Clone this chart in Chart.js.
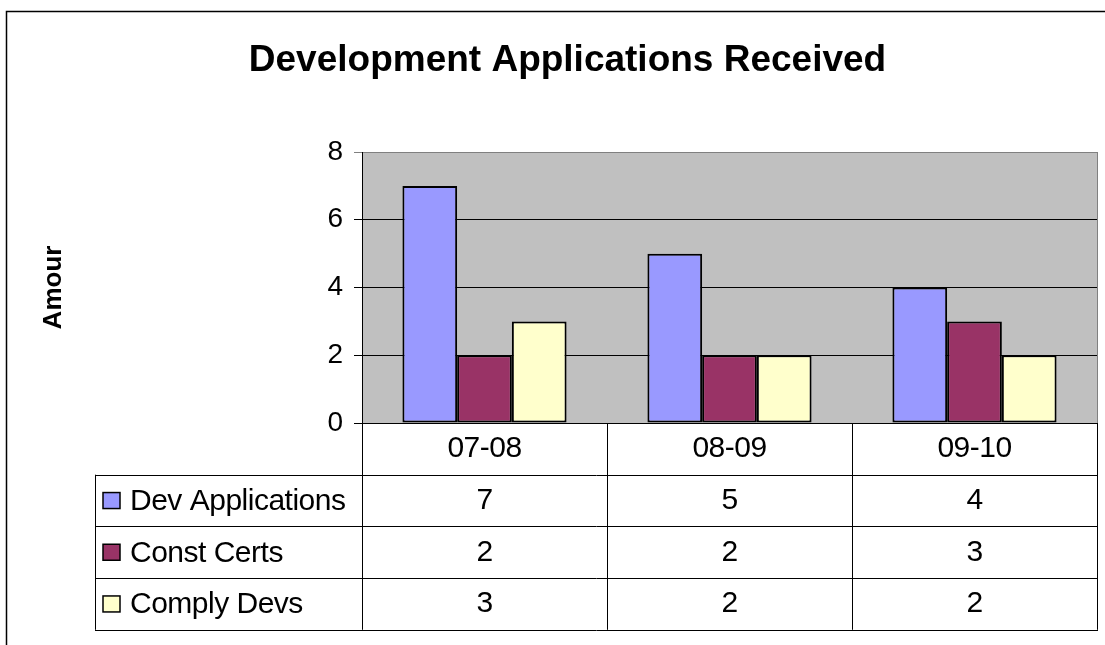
<!DOCTYPE html>
<html>
<head>
<meta charset="utf-8">
<script src="https://cdn.jsdelivr.net/npm/chart.js@4"></script>
<style>
  html, body { margin: 0; padding: 0; background: #fff; }
  #wrap { width: 1105px; height: 645px; }
</style>
</head>
<body>
<div id="wrap"><canvas id="barChart" width="1105" height="645"></canvas></div>
<script>
const categories = ['07-08', '08-09', '09-10'];
const devApplications = [7, 5, 4];
const constCerts = [2, 2, 3];
const complyDevs = [3, 2, 2];
const seriesNames = ['Dev Applications', 'Const Certs', 'Comply Devs'];
const seriesColors = ['#9999FF', '#993366', '#FFFFCC'];

const FONT = "'Liberation Sans', Arial, sans-serif";
const ROW_H = 51.7;

// gray plot background, like the old excel chart
const plotBackground = {
    id: 'plotBackground',
    beforeDraw(chart) {
        const { ctx, chartArea: a } = chart;
        ctx.save();
        ctx.fillStyle = '#C0C0C0';
        ctx.fillRect(a.left, a.top, a.right - a.left, a.bottom - a.top);
        ctx.restore();
    }
};

// data table under the bars + outer frame
const dataTable = {
    id: 'dataTable',
    afterDraw(chart) {
        const { ctx, chartArea: a } = chart;
        const x = chart.scales.x;
        const half = (a.right - a.left) / categories.length / 2;
        const rows = [devApplications, constCerts, complyDevs];
        const tableLeft = 95;
        const top = a.bottom;
        const bottom = top + ROW_H * (rows.length + 1);

        ctx.save();
        ctx.lineWidth = 1;

        // right border of the plot
        ctx.strokeStyle = '#808080';
        ctx.beginPath();
        ctx.moveTo(a.right + 0.5, a.top);
        ctx.lineTo(a.right + 0.5, a.bottom);
        ctx.stroke();

        ctx.strokeStyle = '#000';
        ctx.beginPath();
        // horizontal lines
        for (let r = 1; r <= rows.length + 1; r++) {
            const y = Math.round(top + r * ROW_H) + 0.5;
            ctx.moveTo(tableLeft, y);
            ctx.lineTo(a.right + 1, y);
        }
        // vertical lines
        ctx.moveTo(tableLeft + 0.5, top + ROW_H);
        ctx.lineTo(tableLeft + 0.5, bottom);
        ctx.moveTo(a.left + 0.5, top);
        ctx.lineTo(a.left + 0.5, bottom);
        categories.forEach((c, i) => {
            const xr = Math.round(x.getPixelForValue(i) + half) + 0.5;
            ctx.moveTo(xr, top);
            ctx.lineTo(xr, bottom);
        });
        ctx.stroke();

        ctx.fillStyle = '#000';
        ctx.font = '30px ' + FONT;
        ctx.letterSpacing = '-0.5px';
        ctx.textAlign = 'center';
        ctx.textBaseline = 'middle';
        categories.forEach((c, i) => {
            const cx = x.getPixelForValue(i);
            ctx.fillText(c, cx, top + ROW_H / 2);
            rows.forEach((vals, r) => {
                ctx.fillText(String(vals[i]), cx, top + ROW_H * (r + 1.5));
            });
        });

        // legend keys in the first column
        ctx.textAlign = 'left';
        rows.forEach((vals, r) => {
            const cy = top + ROW_H * (r + 1.5);
            ctx.fillStyle = seriesColors[r];
            ctx.fillRect(103, cy - 8, 17, 16);
            ctx.strokeStyle = '#000';
            ctx.lineWidth = 1.5;
            ctx.strokeRect(103, cy - 8, 17, 16);
            ctx.fillStyle = '#000';
            ctx.fillText(seriesNames[r], 130, cy + 1);
        });

        // outer chart frame
        ctx.lineWidth = 1.5;
        ctx.strokeStyle = '#000';
        ctx.beginPath();
        ctx.moveTo(6.5, 645);
        ctx.lineTo(6.5, 11.5);
        ctx.lineTo(1105, 11.5);
        ctx.stroke();
        ctx.restore();
    }
};

const ctx = document.getElementById('barChart').getContext('2d');
const myBarChart = new Chart(ctx, {
    type: 'bar',
    data: {
        labels: categories,
        datasets: [devApplications, constCerts, complyDevs].map((vals, i) => ({
            label: seriesNames[i],
            data: vals,
            backgroundColor: seriesColors[i],
            borderColor: '#000',
            borderWidth: 2,
            borderSkipped: false,
            categoryPercentage: 0.67,
            barPercentage: 1
        }))
    },
    options: {
        responsive: false,
        animation: false,
        devicePixelRatio: 1,
        layout: { padding: { left: 38, right: 8, top: 0, bottom: 222 } },
        plugins: {
            legend: { display: false },
            tooltip: { enabled: false },
            title: {
                display: true,
                text: 'Development Applications Received',
                color: '#000',
                font: { family: FONT, size: 37, weight: 'bold' },
                padding: { top: 39, bottom: 68.6 }
            }
        },
        scales: {
            x: {
                ticks: { display: false },
                grid: { display: false },
                border: { color: '#000', width: 1 },
                afterFit: s => { s.height = 0; }
            },
            y: {
                min: 0,
                max: 8,
                ticks: {
                    stepSize: 2,
                    color: '#000',
                    padding: 11,
                    font: { family: FONT, size: 28 }
                },
                grid: {
                    color: c => (c.tick && c.tick.value === 8 ? '#808080' : '#000'),
                    tickLength: 8
                },
                border: { color: '#000', width: 1 },
                title: {
                    display: true,
                    text: 'Amour',
                    color: '#000',
                    font: { family: FONT, size: 26, weight: 'bold' },
                    padding: { top: 0, bottom: 0 }
                },
                afterFit: s => { s.width = 324; }
            }
        }
    },
    plugins: [plotBackground, dataTable]
});
</script>
</body>
</html>
